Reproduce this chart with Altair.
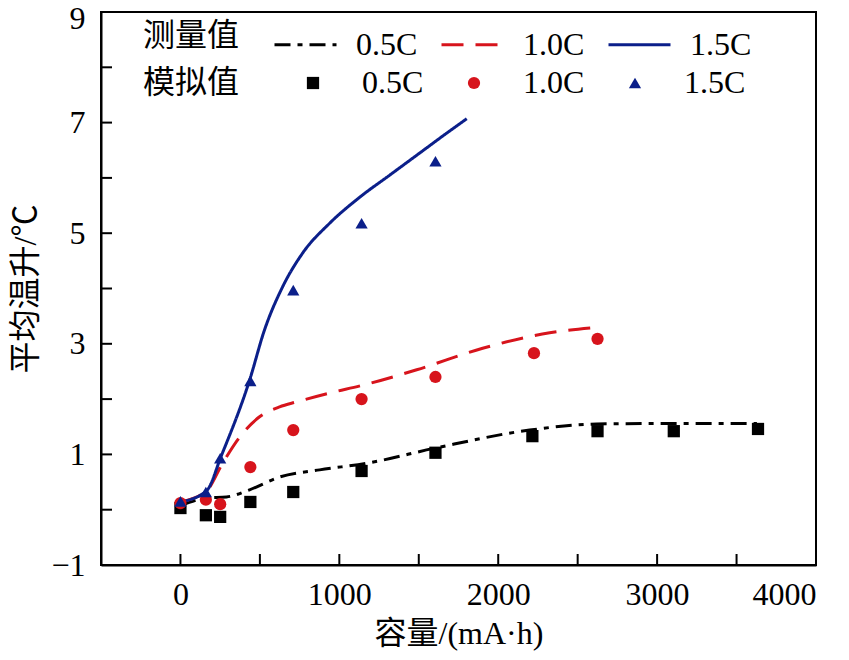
import altair as alt
import pandas as pd

series = ["0.5C", "1.0C", "1.5C"]
colors = ["#000000", "#d7141c", "#0b1f8a"]

# measured (lines)
m05_x = [0, 164, 290, 435, 624, 876, 1172, 1613, 2198, 2620, 3100, 3628]
m05_y = [0.07, 0.21, 0.23, 0.36, 0.59, 0.72, 0.84, 1.12, 1.44, 1.55, 1.56, 1.56]
m10_x = [0, 164, 265, 372, 498, 624, 731, 939, 1146, 1487, 1902, 2324, 2627]
m10_y = [0.14, 0.34, 0.84, 1.31, 1.68, 1.86, 1.95, 2.11, 2.25, 2.53, 2.92, 3.20, 3.30]
m15_x = [0, 164, 258, 435, 529, 643, 769, 939, 1128, 1317, 1506, 1676, 1802]
m15_y = [0.14, 0.34, 0.98, 2.34, 3.25, 4.03, 4.64, 5.18, 5.65, 6.05, 6.45, 6.81, 7.07]

# simulated (points)
s05_x = [0, 160, 250, 440, 710, 1140, 1605, 2215, 2625, 3105, 3635]
s05_y = [0.03, -0.10, -0.13, 0.14, 0.32, 0.70, 1.03, 1.33, 1.42, 1.42, 1.46]
s10_x = [0, 160, 250, 440, 710, 1140, 1605, 2225, 2625]
s10_y = [0.12, 0.18, 0.10, 0.77, 1.44, 2.00, 2.40, 2.83, 3.09]
s15_x = [0, 160, 250, 440, 710, 1140, 1605]
s15_y = [0.15, 0.32, 0.93, 2.33, 3.97, 5.18, 6.30]

x_ticks = [0, 500, 1000, 1500, 2000, 2500, 3000, 3500]
y_ticks = [0, 1, 2, 3, 4, 5, 6, 7, 8]
x_labels = [-500, 0, 1000, 2000, 3000, 4000]
y_labels = [-1, 1, 3, 5, 7, 9]

FONT = "Liberation Serif, Noto Sans CJK SC"

def build(xs, ys, name, field):
    return pd.DataFrame({"x": xs, "y": ys, field: name})

meas = pd.concat([build(m05_x, m05_y, series[0], "meas"),
                  build(m10_x, m10_y, series[1], "meas"),
                  build(m15_x, m15_y, series[2], "meas")])
sim = pd.concat([build(s05_x, s05_y, series[0], "sim"),
                 build(s10_x, s10_y, series[1], "sim"),
                 build(s15_x, s15_y, series[2], "sim")])

xscale = alt.Scale(domain=[-500, 4000], nice=False, zero=False)
yscale = alt.Scale(domain=[-1, 9], nice=False, zero=False)

xaxis = alt.Axis(values=x_labels, labelExpr="datum.value < 0 ? '' : format(datum.value, 'd')",
                 ticks=False, grid=False, title="容量/(mA·h)",
                 labelPadding=14, titlePadding=8)
yaxis = alt.Axis(values=y_labels, ticks=False, grid=False, title="平均温升/℃",
                 labelPadding=16, titlePadding=8,
                 labelOffset={"condition": {"test": "datum.value == 9", "value": 6}, "value": 0})

line_legend = alt.Legend(title="测量值", orient="none", legendX=42, legendY=0,
                         direction="horizontal", titleOrient="left",
                         titleAnchor="middle", titleBaseline="middle",
                         symbolType="stroke", symbolSize=3844,
                         symbolStrokeWidth=3, labelOffset=18,
                         columnPadding=17, titlePadding=33)
point_legend = alt.Legend(title="模拟值", orient="none", legendX=42, legendY=55,
                          direction="horizontal", titleOrient="left",
                          titleAnchor="middle", titleBaseline="middle",
                          labelOffset=33, columnPadding=34, titlePadding=57)

lines = alt.Chart(meas).mark_line(strokeWidth=3, interpolate="monotone").encode(
    x=alt.X("x:Q", scale=xscale, axis=xaxis),
    y=alt.Y("y:Q", scale=yscale, axis=yaxis),
    color=alt.Color("meas:N", scale=alt.Scale(domain=series, range=colors),
                    legend=line_legend),
    strokeDash=alt.StrokeDash("meas:N",
                              scale=alt.Scale(domain=series,
                                              range=[[16, 7, 5, 7], [22, 12], [1, 0]]),
                              legend=line_legend),
)

points = alt.Chart(sim).mark_point(filled=True, opacity=1).encode(
    x=alt.X("x:Q", scale=xscale),
    y=alt.Y("y:Q", scale=yscale),
    color=alt.Color("sim:N", scale=alt.Scale(domain=series, range=colors),
                    legend=point_legend),
    shape=alt.Shape("sim:N",
                    scale=alt.Scale(domain=series, range=["square", "circle", "triangle-up"]),
                    legend=point_legend),
    size=alt.Size("sim:N", scale=alt.Scale(domain=series, range=[150, 150, 260]),
                  legend=point_legend),
)

xt = alt.Chart(pd.DataFrame({"v": x_ticks})).mark_rule(color="black", strokeWidth=2).encode(
    x=alt.X("v:Q", scale=xscale), y=alt.value(553), y2=alt.value(542))
yt = alt.Chart(pd.DataFrame({"v": y_ticks})).mark_rule(color="black", strokeWidth=2).encode(
    y=alt.Y("v:Q", scale=yscale), x=alt.value(0), x2=alt.value(11))

chart = alt.layer(xt, yt, lines, points).resolve_scale(
    color="independent", shape="independent", strokeDash="independent", size="independent"
).properties(
    width=715, height=553,
    autosize=alt.AutoSizeParams(type="none"),
    padding={"left": 93, "top": 4, "right": 25, "bottom": 87},
).configure(font=FONT).configure_view(
    stroke="black", strokeWidth=2
).configure_axis(
    domainColor="black", domainWidth=2, labelFont=FONT, titleFont=FONT,
    labelFontSize=32, titleFontSize=32, titleFontWeight="normal", labelColor="black",
    titleColor="black"
).configure_legend(
    labelFont=FONT, titleFont=FONT, labelFontSize=32, titleFontSize=32,
    titleFontWeight="normal", labelColor="black", titleColor="black"
)

chart.save("out.html", embed_options={"renderer": "svg", "actions": False})
